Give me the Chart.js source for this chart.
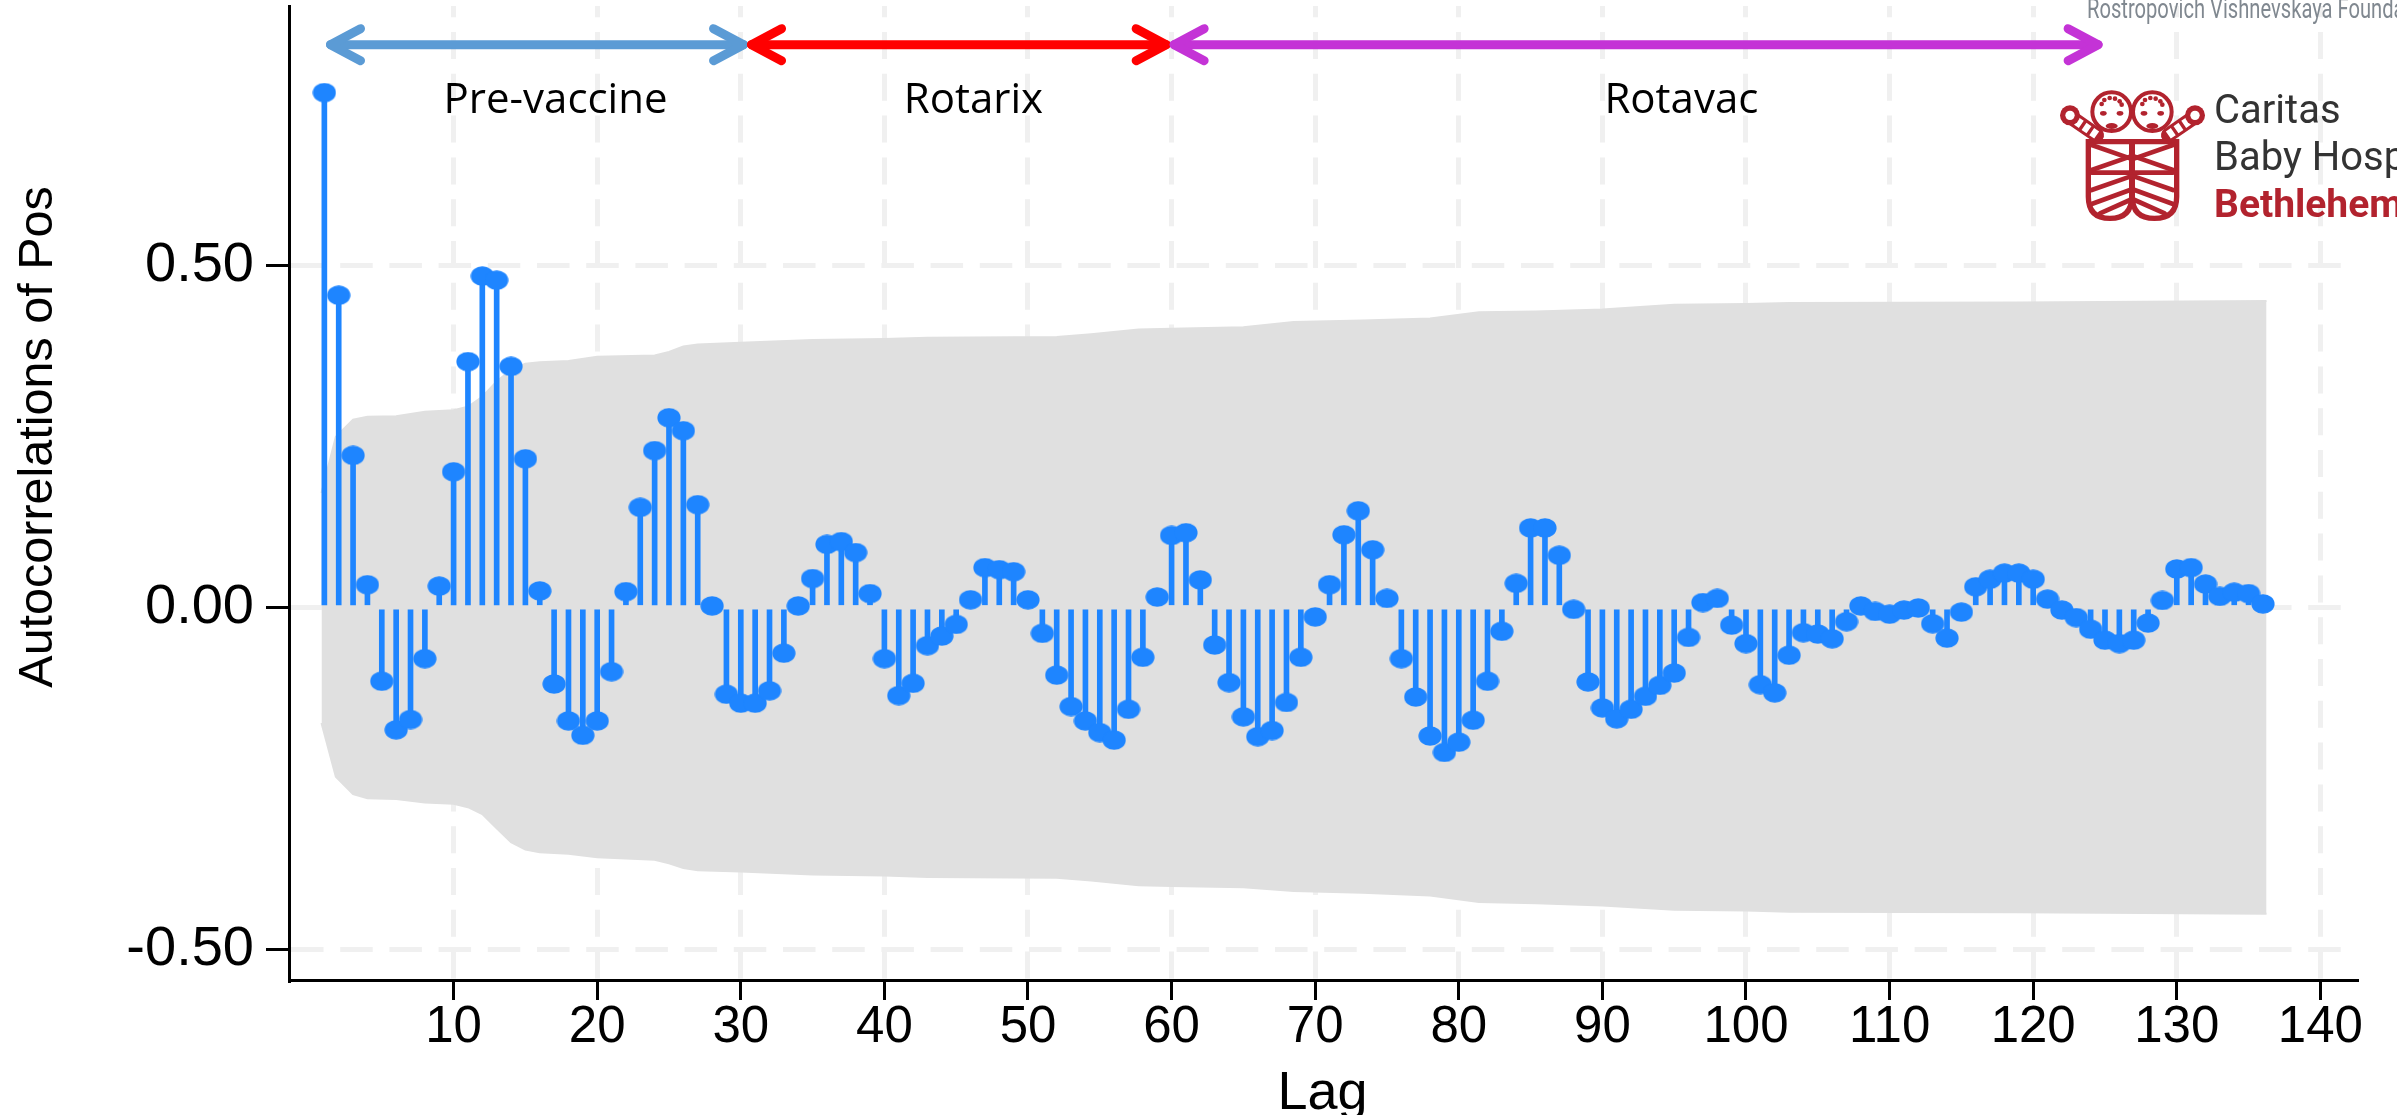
<!DOCTYPE html>
<html>
<head>
<meta charset="utf-8">
<title>Autocorrelations of Pos</title>
<script src="https://cdn.jsdelivr.net/npm/chart.js@4/dist/chart.umd.min.js"></script>
<style>
    html, body { margin: 0; padding: 0; background: #ffffff; }
    canvas { display: block; }
</style>
</head>
<body>
<canvas id="acf" width="2397" height="1115"></canvas>
<script>
const acValues = [
    0.752, 0.456, 0.222, 0.033, -0.108, -0.179, -0.164, -0.075, 0.031, 0.198,
    0.359, 0.484, 0.478, 0.352, 0.217, 0.024, -0.112, -0.166, -0.187, -0.166,
    -0.094, 0.023, 0.146, 0.229, 0.277, 0.258, 0.150, 0.002, -0.127, -0.140,
    -0.140, -0.122, -0.067, 0.002, 0.042, 0.092, 0.096, 0.080, 0.020, -0.075,
    -0.129, -0.111, -0.056, -0.042, -0.025, 0.011, 0.058, 0.055, 0.052, 0.011,
    -0.038, -0.099, -0.145, -0.166, -0.183, -0.194, -0.149, -0.073, 0.015, 0.105,
    0.109, 0.040, -0.055, -0.110, -0.160, -0.189, -0.180, -0.139, -0.073, -0.014,
    0.033, 0.106, 0.141, 0.084, 0.013, -0.075, -0.131, -0.188, -0.212, -0.197,
    -0.165, -0.108, -0.035, 0.035, 0.116, 0.116, 0.076, -0.003, -0.109, -0.147,
    -0.163, -0.149, -0.130, -0.114, -0.096, -0.044, 0.007, 0.013, -0.026, -0.053,
    -0.113, -0.125, -0.070, -0.037, -0.039, -0.046, -0.021, 0.002, -0.006, -0.010,
    -0.004, -0.001, -0.024, -0.045, -0.007, 0.030, 0.041, 0.050, 0.050, 0.041,
    0.012, -0.004, -0.015, -0.032, -0.048, -0.053, -0.048, -0.023, 0.010, 0.056,
    0.058, 0.034, 0.016, 0.022, 0.020, 0.005
];
const lags = acValues.map((v, i) => i + 1);

const bandLags = [0.8, 1.8, 3, 4, 6, 8, 10, 11, 12, 13, 14, 15, 16, 18, 20, 24, 25, 26, 27, 30,
    35, 40, 43, 52, 54.4, 57.7, 60, 65, 68.5, 73.3, 78, 81.4, 85.4, 90, 95, 100, 103, 119, 136.25];
const bandUpper = [0.167, 0.249, 0.274, 0.2785, 0.279, 0.2857, 0.288, 0.293, 0.3077, 0.330, 0.347, 0.356, 0.358, 0.360, 0.366, 0.368, 0.373, 0.381, 0.384, 0.3866,
    0.3905, 0.392, 0.394, 0.395, 0.399, 0.406, 0.407, 0.409, 0.417, 0.419, 0.422, 0.431, 0.432, 0.435, 0.442, 0.443, 0.4445, 0.4455, 0.4475];
const bandLower = [-0.169, -0.2475, -0.273, -0.279, -0.280, -0.285, -0.287, -0.292, -0.302, -0.323, -0.343, -0.354, -0.358, -0.360, -0.365, -0.369, -0.374, -0.381, -0.384, -0.386,
    -0.3905, -0.392, -0.394, -0.395, -0.399, -0.406, -0.407, -0.409, -0.4145, -0.417, -0.421, -0.4305, -0.4325, -0.4355, -0.4418, -0.443, -0.4447, -0.4455, -0.4476];

const xTicks = [10, 20, 30, 40, 50, 60, 70, 80, 90, 100, 110, 120, 130, 140];
const yTicks = [-0.5, 0, 0.5];

const phaseNames = ["Pre-vaccine", "Rotarix", "Rotavac"];
const phaseStart = [1.15, 30.47, 59.9];
const phaseEnd = [30.47, 59.9, 124.8];
const phaseLabelLag = [17.1, 46.2, 95.5];
const phaseColors = ["#5b9bd5", "#ff0000", "#c433d6"];

const stemBlue = "#1e85ff";

// oval marker, the dots in the original are wider than tall
const dot = document.createElement("canvas");
dot.width = 24;
dot.height = 20;
const dotCtx = dot.getContext("2d");
dotCtx.fillStyle = stemBlue;
dotCtx.beginPath();
dotCtx.ellipse(12, 10, 11.6, 9.8, 0, 0, Math.PI * 2);
dotCtx.fill();

const drawChevron = (ctx, tipX, y, dir) => {
    ctx.beginPath();
    ctx.moveTo(tipX + dir * 30, y - 16);
    ctx.lineTo(tipX, y);
    ctx.lineTo(tipX + dir * 30, y + 16);
    ctx.stroke();
};

const drawLogo = (ctx) => {
    const red = "#b2232e";
    ctx.save();
    ctx.translate(1900, 0);
    ctx.scale(1 / 3, 1 / 3);
    ctx.strokeStyle = red;
    ctx.fillStyle = red;
    ctx.lineCap = "round";

    // arms and hands
    [[590, 405, 510, 350], [805, 405, 885, 350]].forEach(a => {
        ctx.lineWidth = 44;
        ctx.strokeStyle = red;
        ctx.setLineDash([]);
        ctx.beginPath();
        ctx.moveTo(a[0], a[1]);
        ctx.lineTo(a[2], a[3]);
        ctx.stroke();
        ctx.lineCap = "butt";
        ctx.lineWidth = 26;
        ctx.strokeStyle = "#ffffff";
        ctx.setLineDash([18, 10]);
        ctx.beginPath();
        ctx.moveTo(a[0], a[1]);
        ctx.lineTo(a[2], a[3]);
        ctx.stroke();
        ctx.lineCap = "round";
        ctx.fillStyle = red;
        ctx.beginPath();
        ctx.arc(a[2], a[3] - 4, 30, 0, Math.PI * 2);
        ctx.fill();
        ctx.fillStyle = "#ffffff";
        ctx.beginPath();
        ctx.arc(a[2], a[3] - 4, 14, 0, Math.PI * 2);
        ctx.fill();
    });
    ctx.setLineDash([]);
    ctx.strokeStyle = red;

    // heads
    [635, 757].forEach(cx => {
        ctx.lineWidth = 12;
        ctx.fillStyle = "#ffffff";
        ctx.beginPath();
        ctx.arc(cx, 335, 58, 0, Math.PI * 2);
        ctx.fill();
        ctx.stroke();
        ctx.fillStyle = red;
        [[-22, 300], [-6, 294], [10, 296], [24, 304], [-30, 312], [30, 314]].forEach(h => {
            ctx.beginPath();
            ctx.arc(cx + h[0], h[1], 7, 0, Math.PI * 2);
            ctx.fill();
        });
        [-25, 25].forEach(d => {
            ctx.beginPath();
            ctx.ellipse(cx + d, 340, 10, 7, 0, 0, Math.PI * 2);
            ctx.fill();
        });
        ctx.beginPath();
        ctx.ellipse(cx, 378, 18, 9, 0, 0, Math.PI * 2);
        ctx.fill();
    });

    // swaddled bodies
    ctx.lineWidth = 16;
    [[565, 695], [697, 830]].forEach(b => {
        const mid = (b[0] + b[1]) / 2;
        ctx.beginPath();
        ctx.moveTo(b[0], 425);
        ctx.lineTo(b[0], 590);
        ctx.quadraticCurveTo(b[0], 655, mid, 655);
        ctx.quadraticCurveTo(b[1], 655, b[1], 590);
        ctx.lineTo(b[1], 425);
        ctx.closePath();
        ctx.stroke();
    });
    ctx.lineWidth = 14;
    [[575, 435, 690, 475], [575, 510, 690, 470], [575, 518, 690, 518], [575, 570, 690, 530], [575, 612, 690, 570], [600, 640, 690, 600]].forEach(s => {
        ctx.beginPath();
        ctx.moveTo(s[0], s[1]);
        ctx.lineTo(s[2], s[3]);
        ctx.stroke();
        ctx.beginPath();
        ctx.moveTo(1394 - s[0], s[1]);
        ctx.lineTo(1394 - s[2], s[3]);
        ctx.stroke();
    });
    ctx.restore();

    ctx.textAlign = "left";
    ctx.textBaseline = "alphabetic";
    ctx.fillStyle = "#333333";
    ctx.font = "40px Roboto";
    ctx.fillText("Caritas", 2214, 123);
    ctx.fillText("Baby Hospital", 2214, 170);
    ctx.fillStyle = red;
    ctx.font = "bold 39px Roboto";
    ctx.fillText("Bethlehem", 2214, 217);

    ctx.save();
    ctx.fillStyle = "#808890";
    ctx.font = "28px Roboto";
    ctx.translate(2087, 18);
    ctx.scale(0.72, 1);
    ctx.fillText("Rostropovich Vishnevskaya Foundation", 0, 0);
    ctx.restore();
};

const annotations = {
    id: "annotations",
    afterDatasetsDraw(chart) {
        const ctx = chart.ctx;
        const x = chart.scales.x;
        const y = chart.scales.y;
        const arrowY = y.getPixelForValue(0.822);
        const labelY = y.getPixelForValue(0.74);

        ctx.save();
        ctx.lineCap = "round";
        ctx.lineJoin = "round";
        phaseNames.forEach((name, i) => {
            const x0 = x.getPixelForValue(phaseStart[i]);
            const x1 = x.getPixelForValue(phaseEnd[i]);
            ctx.strokeStyle = phaseColors[i];
            ctx.lineWidth = 9;
            ctx.beginPath();
            ctx.moveTo(x0 + 4, arrowY);
            ctx.lineTo(x1 - 4, arrowY);
            ctx.stroke();
            drawChevron(ctx, x0 + 4, arrowY, 1);
            drawChevron(ctx, x1 - 4, arrowY, -1);

            ctx.fillStyle = "#000000";
            ctx.font = "42px 'Open Sans'";
            ctx.textAlign = "center";
            ctx.textBaseline = "middle";
            ctx.fillText(name, x.getPixelForValue(phaseLabelLag[i]), labelY);
        });

        ctx.translate(39, 437);
        ctx.rotate(-Math.PI / 2);
        ctx.fillStyle = "#000000";
        ctx.font = "48.5px 'Liberation Sans'";
        ctx.textAlign = "center";
        ctx.textBaseline = "middle";
        ctx.fillText("Autocorrelations of Pos", 0, 0);
        ctx.restore();

        drawLogo(ctx);
    }
};

new Chart(document.getElementById("acf"), {
    type: "line",
    plugins: [annotations],
    data: {
        datasets: [
            {
                type: "line",
                data: lags.map((lag, i) => ({ x: lag, y: acValues[i] })),
                showLine: false,
                pointStyle: dot,
                // the image sets the drawn size, a big radius only adds layout overflow
                pointRadius: 1,
                pointBorderWidth: 0,
                clip: false,
                order: 1
            },
            {
                type: "bar",
                data: lags.map((lag, i) => ({ x: lag, y: acValues[i] })),
                backgroundColor: stemBlue,
                barThickness: 5,
                order: 2
            },
            {
                type: "line",
                data: bandLags.map((lag, i) => ({ x: lag, y: bandUpper[i] })),
                borderColor: "#e0e0e0",
                backgroundColor: "#e0e0e0",
                borderWidth: 2,
                pointRadius: 0,
                tension: 0,
                fill: "+1",
                order: 3
            },
            {
                type: "line",
                data: bandLags.map((lag, i) => ({ x: lag, y: bandLower[i] })),
                borderColor: "#e0e0e0",
                borderWidth: 2,
                pointRadius: 0,
                tension: 0,
                fill: false,
                order: 4
            }
        ]
    },
    options: {
        responsive: false,
        animation: false,
        layout: { padding: { top: 6, right: 41, bottom: 0, left: 0 } },
        plugins: { legend: { display: false }, tooltip: { enabled: false } },
        scales: {
            x: {
                type: "linear",
                offset: false,
                min: -1.462,
                max: 142.48,
                afterBuildTicks: scale => { scale.ticks = xTicks.map(value => ({ value })); },
                afterFit: scale => {
                    scale.height = 135;
                    scale.paddingLeft = 0;
                    scale.paddingRight = 0;
                },
                grid: { offset: false, color: "#f0f0f0", lineWidth: 5, tickColor: "#000000", tickWidth: 3, tickLength: 20, tickBorderDash: [] },
                border: { color: "#000000", width: 3, dash: [27, 14.8], dashOffset: 15.8 },
                ticks: {
                    autoSkip: false,
                    maxRotation: 0,
                    padding: -3,
                    color: "#000000",
                    font: { family: "'Liberation Sans'", size: 51 }
                },
                title: {
                    display: true,
                    text: "Lag",
                    color: "#000000",
                    font: { family: "'Liberation Sans'", size: 54 },
                    padding: { top: 0, bottom: -12 }
                }
            },
            y: {
                type: "linear",
                min: -0.5445,
                max: 0.8785,
                afterBuildTicks: scale => { scale.ticks = yTicks.map(value => ({ value })); },
                afterFit: scale => {
                    scale.width = 289;
                    scale.paddingTop = 0;
                    scale.paddingBottom = 0;
                },
                grid: { color: "#f0f0f0", lineWidth: 5, tickColor: "#000000", tickWidth: 3, tickLength: 23, tickBorderDash: [] },
                border: { color: "#000000", width: 3, dash: [32.5, 16.7] },
                ticks: {
                    padding: 12,
                    color: "#000000",
                    font: { family: "'Liberation Sans'", size: 56 },
                    callback: value => value.toFixed(2)
                }
            }
        }
    }
});
</script>
</body>
</html>
